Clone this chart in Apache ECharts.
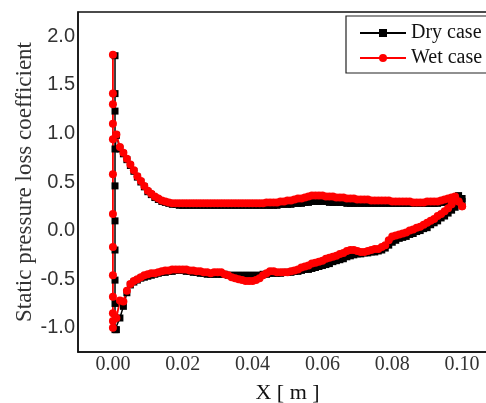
<!DOCTYPE html>
<html>
<head>
<meta charset="utf-8">
<script src="https://cdn.jsdelivr.net/npm/echarts@6/dist/echarts.min.js"></script>
<style>
  html, body { margin: 0; padding: 0; background: #fff; overflow: hidden; }
  #chart { width: 486px; height: 403px; }
</style>
</head>
<body>
<div id="chart"></div>
<script>
// Static pressure loss coefficient along the blade surface, dry vs wet flow.

// Upper surface stations, from trailing edge toward leading edge
const upperX = [
  0.100, 0.099, 0.098, 0.097, 0.096, 0.095, 0.094, 0.093, 0.092, 0.091,
  0.090, 0.089, 0.088, 0.087, 0.086, 0.085, 0.084, 0.083, 0.082, 0.081,
  0.080, 0.079, 0.078, 0.077, 0.076, 0.075, 0.074, 0.073, 0.072, 0.071,
  0.070, 0.069, 0.068, 0.067, 0.066, 0.065, 0.064, 0.063, 0.062, 0.061,
  0.060, 0.059, 0.058, 0.057, 0.056, 0.055, 0.054, 0.053, 0.052, 0.051,
  0.050, 0.049, 0.048, 0.047, 0.046, 0.045, 0.044, 0.043, 0.042, 0.041,
  0.040, 0.039, 0.038, 0.037, 0.036, 0.035, 0.034, 0.033, 0.032, 0.031,
  0.030, 0.029, 0.028, 0.027, 0.026, 0.025, 0.024, 0.023, 0.022, 0.021,
  0.020, 0.019, 0.018, 0.017, 0.016, 0.015, 0.014, 0.013, 0.012, 0.011,
  0.010, 0.009, 0.008, 0.007, 0.006, 0.005, 0.004, 0.003, 0.002, 0.001];
const dryUpper = [
  0.33, 0.36, 0.34, 0.32, 0.30, 0.29, 0.29, 0.28, 0.28, 0.28,
  0.28, 0.28, 0.28, 0.28, 0.28, 0.28, 0.28, 0.28, 0.28, 0.28,
  0.28, 0.28, 0.28, 0.28, 0.28, 0.28, 0.28, 0.28, 0.28, 0.28,
  0.28, 0.28, 0.28, 0.28, 0.29, 0.29, 0.29, 0.29, 0.29, 0.30,
  0.30, 0.30, 0.30, 0.30, 0.29, 0.29, 0.28, 0.28, 0.28, 0.27,
  0.27, 0.27, 0.27, 0.26, 0.26, 0.26, 0.26, 0.26, 0.26, 0.26,
  0.26, 0.26, 0.26, 0.26, 0.26, 0.26, 0.26, 0.26, 0.26, 0.26,
  0.26, 0.26, 0.26, 0.26, 0.26, 0.26, 0.26, 0.26, 0.26, 0.26,
  0.26, 0.26, 0.27, 0.27, 0.28, 0.29, 0.30, 0.32, 0.34, 0.37,
  0.40, 0.45, 0.50, 0.55, 0.61, 0.67, 0.73, 0.79, 0.84, 0.98];
const wetUpper = [
  0.25, 0.30, 0.35, 0.34, 0.33, 0.32, 0.31, 0.30, 0.30, 0.30,
  0.30, 0.29, 0.29, 0.29, 0.29, 0.30, 0.30, 0.30, 0.30, 0.30,
  0.30, 0.31, 0.31, 0.31, 0.31, 0.31, 0.31, 0.32, 0.32, 0.32,
  0.32, 0.33, 0.33, 0.33, 0.34, 0.34, 0.34, 0.35, 0.35, 0.35,
  0.36, 0.36, 0.36, 0.36, 0.35, 0.34, 0.33, 0.33, 0.32, 0.31,
  0.31, 0.30, 0.30, 0.29, 0.29, 0.29, 0.29, 0.28, 0.28, 0.28,
  0.28, 0.28, 0.28, 0.28, 0.28, 0.28, 0.28, 0.28, 0.28, 0.28,
  0.28, 0.28, 0.28, 0.28, 0.28, 0.28, 0.28, 0.28, 0.28, 0.28,
  0.28, 0.28, 0.28, 0.28, 0.29, 0.30, 0.31, 0.33, 0.35, 0.38,
  0.41, 0.46, 0.51, 0.56, 0.62, 0.68, 0.74, 0.80, 0.86, 0.99];

// Leading-edge points (x ~ 0): upper side -> stagnation -> lower side
const dryLeX = [0.0006, 0.0006, 0.0006, 0.0006, 0.0006, 0.0006, 0.0006, 0.0006, 0.0006, 0.0006];
const dryLe = [0.84, 1.23, 1.41, 1.80, 0.46, 0.10, -0.20, -0.51, -0.75, -1.02];
const wetLeX = [0, 0, 0, 0, 0, 0, 0, 0, 0, 0, 0, 0, 0];
const wetLe = [0.94, 1.10, 1.30, 1.41, 1.81, 0.58, 0.17, -0.17, -0.46, -0.68, -0.85, -0.93, -1.00];

// Lower surface stations, from leading edge toward trailing edge
const lowerX = [
  0.001, 0.002, 0.003, 0.004, 0.005, 0.006, 0.007, 0.008, 0.009, 0.010,
  0.011, 0.012, 0.013, 0.014, 0.015, 0.016, 0.017, 0.018, 0.019, 0.020,
  0.021, 0.022, 0.023, 0.024, 0.025, 0.026, 0.027, 0.028, 0.029, 0.030,
  0.031, 0.032, 0.033, 0.034, 0.035, 0.036, 0.037, 0.038, 0.039, 0.040,
  0.041, 0.042, 0.043, 0.044, 0.045, 0.046, 0.047, 0.048, 0.049, 0.050,
  0.051, 0.052, 0.053, 0.054, 0.055, 0.056, 0.057, 0.058, 0.059, 0.060,
  0.061, 0.062, 0.063, 0.064, 0.065, 0.066, 0.067, 0.068, 0.069, 0.070,
  0.071, 0.072, 0.073, 0.074, 0.075, 0.076, 0.077, 0.078, 0.079, 0.080,
  0.081, 0.082, 0.083, 0.084, 0.085, 0.086, 0.087, 0.088, 0.089, 0.090,
  0.091, 0.092, 0.093, 0.094, 0.095, 0.096, 0.097, 0.098, 0.099, 0.100];
const dryLower = [
  -1.02, -0.90, -0.78, -0.64, -0.56, -0.53, -0.51, -0.49, -0.48, -0.47,
  -0.46, -0.45, -0.44, -0.43, -0.43, -0.42, -0.42, -0.41, -0.41, -0.41,
  -0.42, -0.42, -0.43, -0.43, -0.44, -0.44, -0.45, -0.45, -0.45, -0.45,
  -0.45, -0.45, -0.46, -0.46, -0.46, -0.46, -0.46, -0.46, -0.46, -0.46,
  -0.46, -0.46, -0.45, -0.45, -0.44, -0.44, -0.44, -0.44, -0.43, -0.43,
  -0.43, -0.42, -0.42, -0.41, -0.40, -0.40, -0.39, -0.38, -0.37, -0.36,
  -0.35, -0.34, -0.32, -0.31, -0.30, -0.29, -0.27, -0.26, -0.25, -0.24,
  -0.24, -0.23, -0.23, -0.22, -0.22, -0.21, -0.20, -0.18, -0.15, -0.12,
  -0.10, -0.08, -0.07, -0.06, -0.04, -0.03, -0.01, 0.00, 0.02, 0.03,
  0.06, 0.08, 0.10, 0.13, 0.15, 0.18, 0.21, 0.24, 0.27, 0.30];
const wetLower = [
  -0.90, -0.72, -0.73, -0.62, -0.55, -0.52, -0.50, -0.48, -0.46, -0.45,
  -0.44, -0.44, -0.43, -0.42, -0.41, -0.41, -0.40, -0.40, -0.40, -0.40,
  -0.40, -0.41, -0.41, -0.42, -0.42, -0.43, -0.43, -0.44, -0.43, -0.43,
  -0.43, -0.45, -0.46, -0.48, -0.49, -0.50, -0.51, -0.52, -0.52, -0.52,
  -0.51, -0.49, -0.46, -0.44, -0.42, -0.42, -0.43, -0.43, -0.43, -0.43,
  -0.42, -0.41, -0.40, -0.38, -0.37, -0.36, -0.34, -0.33, -0.32, -0.31,
  -0.29, -0.28, -0.27, -0.26, -0.24, -0.23, -0.21, -0.20, -0.20, -0.21,
  -0.22, -0.22, -0.21, -0.20, -0.19, -0.19, -0.17, -0.15, -0.10, -0.06,
  -0.05, -0.04, -0.03, -0.02, 0.00, 0.01, 0.03, 0.04, 0.06, 0.08,
  0.10, 0.12, 0.15, 0.17, 0.20, 0.23, 0.27, 0.32, 0.30, 0.25];

// Axis tick labels
const xTickLabels = ['0.00', '0.02', '0.04', '0.06', '0.08', '0.10'];
const yTickLabels = ['-1.0', '-0.5', '0.0', '0.5', '1.0', '1.5', '2.0'];

function pairs(xs, ys) {
  return ys.map((y, i) => [xs[i], y]);
}
// One closed trace: upper surface, round the leading edge, then lower surface
function surfaceLoop(ux, uy, lx, ly, ex, ey) {
  return pairs(ux, uy).concat(pairs(ex, ey), pairs(lx, ly));
}

const dryData = surfaceLoop(upperX, dryUpper, lowerX, dryLower, dryLeX, dryLe);
const wetData = surfaceLoop(upperX, wetUpper, lowerX, wetLower, wetLeX, wetLe);

const chart = echarts.init(document.getElementById('chart'), null, { renderer: 'canvas' });

chart.setOption({
  animation: false,
  backgroundColor: '#fff',
  grid: {
    left: 78, top: 12, width: 419, height: 340,
    outerBoundsMode: 'none',
    containLabel: false,
    show: true, borderColor: '#111', borderWidth: 1.5, backgroundColor: 'transparent'
  },
  legend: {
    orient: 'vertical',
    left: 346, top: 16,
    padding: [7, 40, 5, 13],
    itemGap: 5,
    itemWidth: 46, itemHeight: 10,
    borderColor: '#222', borderWidth: 1.2,
    backgroundColor: '#fff',
    textStyle: { fontFamily: 'Liberation Serif', fontSize: 20, color: '#111', lineHeight: 20 },
    data: ['Dry case', 'Wet case']
  },
  xAxis: {
    type: 'value',
    min: -0.01, max: 0.11, interval: 0.01,
    name: 'X [ m ]',
    nameLocation: 'middle',
    nameGap: 30,
    nameMoveOverlap: false,
    nameTextStyle: { fontFamily: 'Liberation Serif', fontSize: 22, color: '#111' },
    axisLine: { show: true, onZero: false, lineStyle: { color: '#111', width: 1.5 } },
    axisTick: { show: false },
    splitLine: { show: false },
    axisLabel: {
      margin: 3,
      fontFamily: 'Liberation Serif', fontSize: 20, color: '#333',
      formatter: v => {
        const s = v.toFixed(2);
        return xTickLabels.includes(s) ? s : '';
      }
    }
  },
  yAxis: {
    type: 'value',
    min: -1.25, max: 2.25, interval: 0.25,
    name: 'Static pressure loss coefficient',
    nameLocation: 'middle',
    nameGap: 42,
    nameMoveOverlap: false,
    nameTextStyle: { fontFamily: 'Liberation Serif', fontSize: 23, color: '#333' },
    axisLine: { show: true, onZero: false, lineStyle: { color: '#111', width: 1.5 } },
    axisTick: { show: false },
    splitLine: { show: false },
    axisLabel: {
      margin: 3,
      fontFamily: 'Liberation Sans', fontSize: 20, color: '#333',
      formatter: v => {
        const s = v.toFixed(1);
        return (Math.abs(v * 2 - Math.round(v * 2)) < 1e-6 && yTickLabels.includes(s)) ? s : '';
      }
    }
  },
  series: [
    {
      name: 'Dry case',
      type: 'line',
      data: dryData,
      symbol: 'rect',
      symbolSize: 7,
      lineStyle: { color: '#000', width: 1.5 },
      itemStyle: { color: '#000' }
    },
    {
      name: 'Wet case',
      type: 'line',
      data: wetData,
      symbol: 'circle',
      symbolSize: 8,
      lineStyle: { color: '#f00', width: 1.8 },
      itemStyle: { color: '#f00' }
    }
  ]
});
</script>
</body>
</html>
